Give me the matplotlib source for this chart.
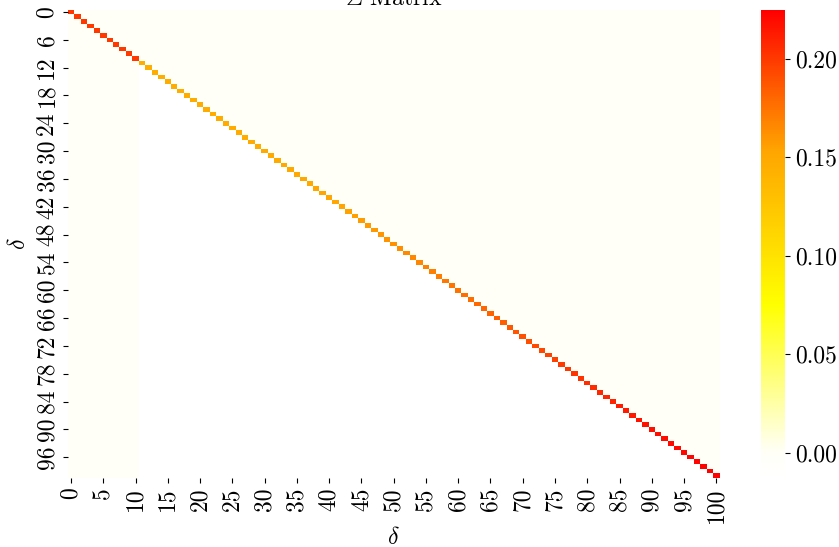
import numpy as np
import matplotlib
matplotlib.use("Agg")
import matplotlib.pyplot as plt
from matplotlib.colors import LinearSegmentedColormap
import seaborn as sns


plt.rcParams['font.family'] = ['cmr10', 'DejaVu Serif']
plt.rcParams['mathtext.fontset'] = 'cm'
plt.rcParams['axes.unicode_minus'] = False
plt.rcParams['axes.formatter.use_mathtext'] = True

# diagonal of the Sigma matrix (101 entries)
diag_values = [
	0.201, 0.200, 0.200, 0.199, 0.200, 0.200, 0.199, 0.200, 0.200, 0.199, 0.200,
	0.146, 0.146, 0.147, 0.146, 0.147, 0.147, 0.146, 0.147, 0.147, 0.147,
	0.147, 0.148, 0.147, 0.148, 0.148, 0.148, 0.148, 0.149, 0.148, 0.149,
	0.149, 0.149, 0.150, 0.150, 0.150, 0.151, 0.151, 0.152, 0.152, 0.153,
	0.153, 0.154, 0.155, 0.156, 0.157, 0.158, 0.159, 0.160, 0.161, 0.162,
	0.163, 0.165, 0.166, 0.167, 0.169, 0.170, 0.171, 0.173, 0.174, 0.175,
	0.177, 0.178, 0.180, 0.181, 0.182, 0.184, 0.185, 0.187, 0.188, 0.190,
	0.191, 0.193, 0.194, 0.196, 0.197, 0.199, 0.200, 0.202, 0.203, 0.205,
	0.206, 0.208, 0.209, 0.210, 0.212, 0.213, 0.214, 0.216, 0.217, 0.218,
	0.219, 0.220, 0.221, 0.221, 0.222, 0.223, 0.223, 0.224, 0.224, 0.225,
]
upper_value = 0.0        # above the diagonal (and first block of columns)
lower_value = -0.0128    # below the diagonal, past the first block
first_block = 11         # columns 0..10 share the upper value

cbar_ticks = [0.00, 0.05, 0.10, 0.15, 0.20]


n = len(diag_values)
sigma = np.full((n, n), upper_value)
rows, cols = np.tril_indices(n, -1)
keep = cols >= first_block
sigma[rows[keep], cols[keep]] = lower_value
np.fill_diagonal(sigma, diag_values)

cmap = LinearSegmentedColormap.from_list('wyor', [
	(0.0, '#ffffff'),
	(0.054, '#fffff7'),
	(0.37, '#ffff00'),
	(0.70, '#ffa500'),
	(1.0, '#ff0000'),
])

fig = plt.figure(figsize=(8.39, 5.47), dpi=100)
ax = fig.add_axes([0.0808, 0.1261, 0.7768, 0.8562])
cax = fig.add_axes([0.9071, 0.1261, 0.0286, 0.8562])

sns.heatmap(sigma, ax=ax, cbar_ax=cax, cmap=cmap, xticklabels=5, yticklabels=6)

fs = 17
ax.set_xticklabels(ax.get_xticklabels(), rotation=90, fontsize=fs)
ax.set_yticklabels(ax.get_yticklabels(), rotation=90, va='center', fontsize=fs)
ax.set_xlabel(r'$\delta$', fontsize=fs, labelpad=2.5)
ax.set_ylabel(r'$\delta$', fontsize=fs)
ax.set_title(r'$\Sigma$ Matrix', fontsize=fs, pad=3.5)

cax.set_yticks(cbar_ticks)
cax.set_yticklabels(['%.2f' % t for t in cbar_ticks], fontsize=fs)

fig.savefig('out.png', dpi=100)
